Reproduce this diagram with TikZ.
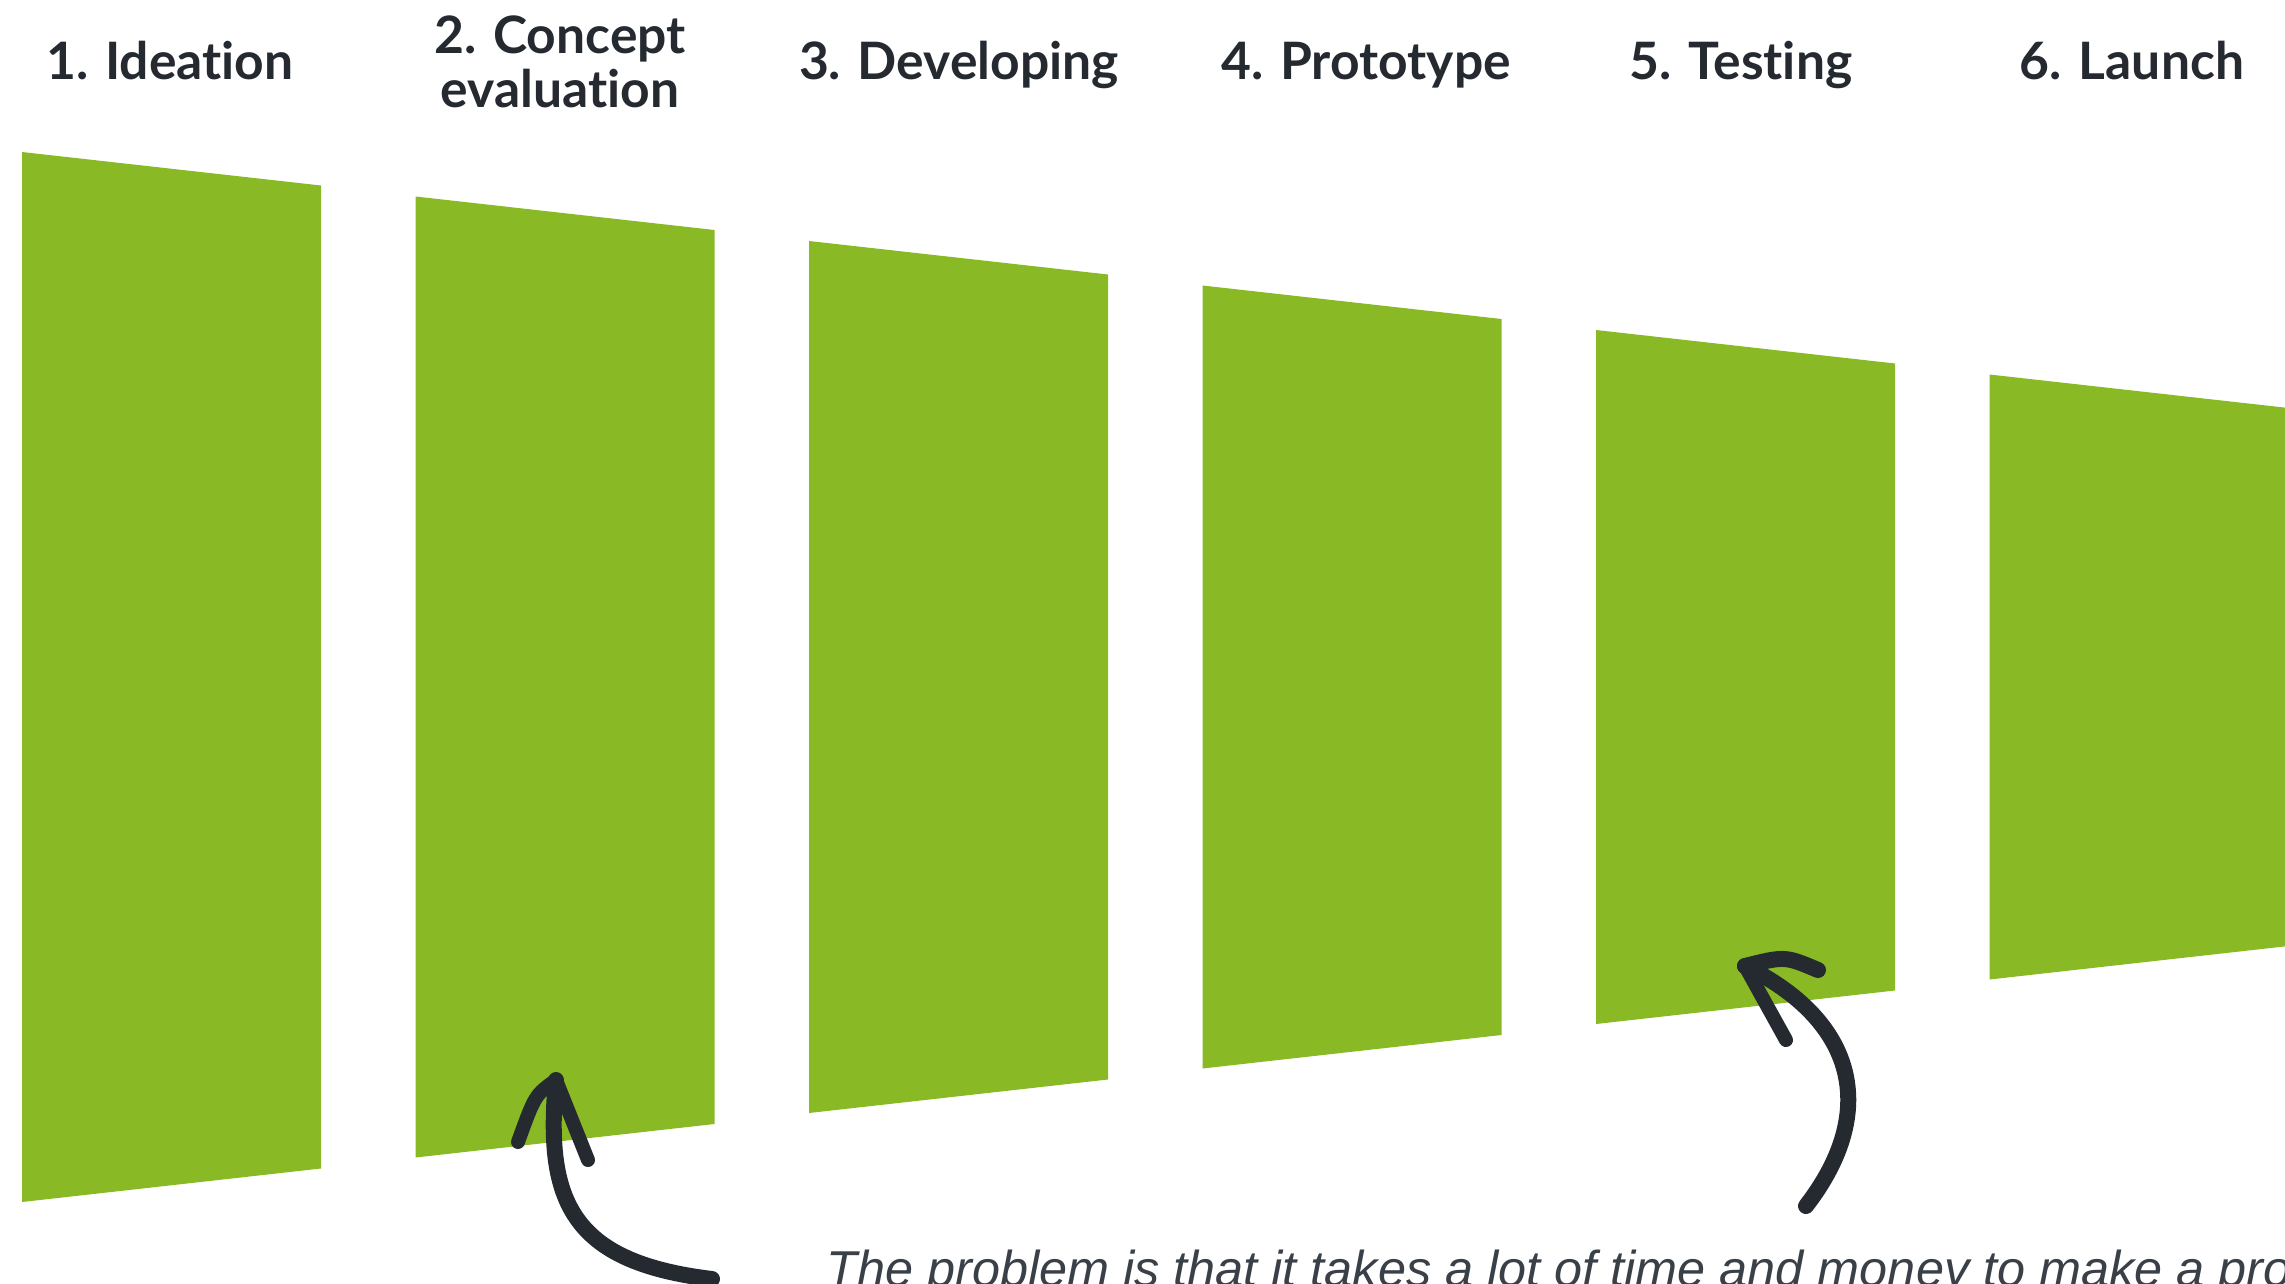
\documentclass[tikz,border=0pt]{standalone}
\usepackage{fontspec}
\setmainfont{Lato}[Ligatures=NoCommon]
\newfontfamily\notefont{Liberation Sans}
\definecolor{colorBar}{HTML}{89BA26}
\definecolor{colorInk}{HTML}{252A31}
\definecolor{colorNote}{HTML}{3A4047}
\tikzset{
  stage label/.style={
    text=colorInk,font=\fontsize{25.8}{27.5}\selectfont\bfseries,
    anchor=base,inner sep=0pt,align=center,
  },
  hand arrow/.style={
    draw=colorInk,line width=8pt,line cap=round,line join=round,
  },
}

\begin{document}
\begin{tikzpicture}[x=0.5pt,y=-0.5pt]
   \useasboundingbox (0,0) rectangle (2285,1284);
   \clip (0,0) rectangle (2285,1284);

   % NODES
   \coordinate (b1tl) at (22.0, 152.0); % top left
   \coordinate (b1tr) at (321.0, 185.5); % top right
   \coordinate (b1br) at (321.0, 1168.5); % bottom right
   \coordinate (b1bl) at (22.0, 1202.0); % bottom left

   % DRAW BAR
   \fill[colorBar] (b1tl)--(b1tr)--(b1br)--(b1bl)--cycle;

   % NODES
   \coordinate (b2tl) at (415.5, 196.5); % top left
   \coordinate (b2tr) at (714.5, 230.0); % top right
   \coordinate (b2br) at (714.5, 1124.0); % bottom right
   \coordinate (b2bl) at (415.5, 1157.5); % bottom left

   % DRAW BAR
   \fill[colorBar] (b2tl)--(b2tr)--(b2br)--(b2bl)--cycle;

   % NODES
   \coordinate (b3tl) at (809.0, 241.0); % top left
   \coordinate (b3tr) at (1108.0, 274.5); % top right
   \coordinate (b3br) at (1108.0, 1079.5); % bottom right
   \coordinate (b3bl) at (809.0, 1113.0); % bottom left

   % DRAW BAR
   \fill[colorBar] (b3tl)--(b3tr)--(b3br)--(b3bl)--cycle;

   % NODES
   \coordinate (b4tl) at (1202.5, 285.5); % top left
   \coordinate (b4tr) at (1501.5, 319.0); % top right
   \coordinate (b4br) at (1501.5, 1035.0); % bottom right
   \coordinate (b4bl) at (1202.5, 1068.5); % bottom left

   % DRAW BAR
   \fill[colorBar] (b4tl)--(b4tr)--(b4br)--(b4bl)--cycle;

   % NODES
   \coordinate (b5tl) at (1596.0, 330.0); % top left
   \coordinate (b5tr) at (1895.0, 363.5); % top right
   \coordinate (b5br) at (1895.0, 990.5); % bottom right
   \coordinate (b5bl) at (1596.0, 1024.0); % bottom left

   % DRAW BAR
   \fill[colorBar] (b5tl)--(b5tr)--(b5br)--(b5bl)--cycle;

   % NODES
   \coordinate (b6tl) at (1989.5, 374.5); % top left
   \coordinate (b6tr) at (2288.5, 408.0); % top right
   \coordinate (b6br) at (2288.5, 946.0); % bottom right
   \coordinate (b6bl) at (1989.5, 979.5); % bottom left

   % DRAW BAR
   \fill[colorBar] (b6tl)--(b6tr)--(b6br)--(b6bl)--cycle;

   % LABELS
   \node[stage label] (ideation) at (170.0, 80.0) {1. Ideation};
   \node[stage label] (concept) at (560.0, 108.0) {2. Concept\\evaluation};
   \node[stage label] (developing) at (959.0, 80.0) {3. Developing};
   \node[stage label] (prototype) at (1366.0, 80.0) {4. Prototype};
   \node[stage label] (testing) at (1741.0, 80.0) {5. Testing};
   \node[stage label] (launch) at (2132.0, 80.0) {6. Launch};

   % NOTE
   \node[anchor=base west,inner sep=0pt,text=colorNote,
     font=\notefont\itshape\fontsize{25.2}{30}\selectfont] (note) at (826.0, 1286.0)
     {The problem is that it takes a lot of time and money to make a pro};

   % ARROWS
   \coordinate (a1tail) at (712.0, 1279.0); % tail
   \coordinate (a1tip) at (556.0, 1080.0); % head
   \coordinate (a1left) at (518.0, 1142.0); % barb
   \coordinate (a1right) at (588.0, 1160.0); % barb
   \path[hand arrow] (a1tail) .. controls (570.0, 1262.0) and (545.0, 1200.0) .. (a1tip);
   \path[hand arrow,line width=7pt] (a1tip) .. controls (535.0, 1095.0) .. (a1left);
   \path[hand arrow,line width=7pt] (a1tip)--(a1right);

   \coordinate (a2tail) at (1806.0, 1206.0); % tail
   \coordinate (a2tip) at (1745.0, 966.0); % head
   \coordinate (a2upper) at (1818.0, 970.0); % barb
   \coordinate (a2lower) at (1786.0, 1040.0); % barb
   \path[hand arrow] (a2tail) .. controls (1880.0, 1110.0) and (1855.0, 1020.0) .. (a2tip);
   \path[hand arrow,line width=8pt] (a2tip) .. controls (1785.0, 956.0) .. (a2upper);
   \path[hand arrow,line width=7pt] (a2tip)--(a2lower);

\end{tikzpicture}
\end{document}
